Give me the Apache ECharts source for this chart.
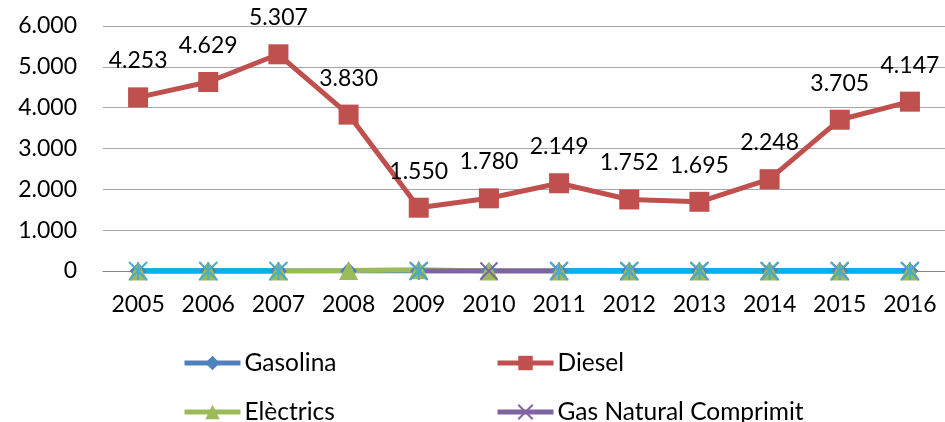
<!DOCTYPE html>
<html>
<head>
<meta charset="utf-8">
<script src="https://cdn.jsdelivr.net/npm/echarts@6/dist/echarts.min.js"></script>
<style>
  html, body { margin: 0; padding: 0; background: #fff; }
  #chart { width: 945px; height: 422px; }
</style>
</head>
<body>
<div id="chart"></div>
<script>
// Years on the category axis
const years = ['2005', '2006', '2007', '2008', '2009', '2010', '2011', '2012', '2013', '2014', '2015', '2016'];

// Vehicle counts per fuel type
const gasolina = [0, 0, 0, 0, 0, 0, 0, 0, 0, 0, 0, 0];
const diesel = [4253, 4629, 5307, 3830, 1550, 1780, 2149, 1752, 1695, 2248, 3705, 4147];
const electrics = [0, 0, 0, 10, 30, 0, 0, 0, 0, 0, 0, 0];
const gnc = [null, null, null, null, 0, 0, 0, 0, 0, 0, 0, 0];
const hibrids = [0, 0, 0, null, 0, null, 0, 0, 0, 0, 0, 0];

// Value axis ticks
const yTicks = [0, 1000, 2000, 3000, 4000, 5000, 6000];

const FONT = 'Lato';
const AXIS_FONT = 23;
const LEGEND_FONT = 24.5;
const fmt = v => String(v).replace(/\B(?=(\d{3})+(?!\d))/g, '.');

const xSymbol = 'path://M0,0L10,10M10,0L0,10';
const starSymbol = 'path://M0,0L10,10M10,0L0,10M5,0L5,10';

const chart = echarts.init(document.getElementById('chart'), null, { renderer: 'canvas' });

const legendBase = {
  orient: 'horizontal',
  padding: 0,
  itemWidth: 56,
  itemHeight: 18,
  itemGap: 10,
  lineStyle: { width: 5 },
  textStyle: { fontFamily: FONT, fontSize: LEGEND_FONT, color: '#000', padding: [0, 0, 0, -1], lineHeight: 26 }
};

chart.setOption({
  animation: false,
  textStyle: { fontFamily: FONT },
  grid: { left: 103, right: 0, top: 26, bottom: 151 },
  legend: [
    Object.assign({}, legendBase, { left: 182, top: 350, data: ['Gasolina'] }),
    Object.assign({}, legendBase, { left: 495, top: 350, data: ['Diesel'] }),
    Object.assign({}, legendBase, { left: 182, top: 399, data: ['Elèctrics'] }),
    Object.assign({}, legendBase, { left: 495, top: 399, data: ['Gas Natural Comprimit'] })
  ],
  xAxis: {
    type: 'category',
    data: years,
    boundaryGap: true,
    axisTick: { show: false },
    axisLine: { lineStyle: { color: '#868686', width: 1 } },
    axisLabel: { color: '#000', fontSize: AXIS_FONT, fontFamily: FONT, margin: 22 }
  },
  yAxis: {
    type: 'value',
    min: yTicks[0],
    max: yTicks[yTicks.length - 1],
    interval: yTicks[1] - yTicks[0],
    axisLine: { show: false },
    axisTick: { show: false },
    splitLine: { lineStyle: { color: '#A6A6A6', width: 1 } },
    axisLabel: { color: '#000', fontSize: AXIS_FONT, fontFamily: FONT, margin: 26, formatter: fmt }
  },
  series: [
    {
      name: 'Gasolina', type: 'line', data: gasolina,
      symbol: 'diamond', symbolSize: 17,
      itemStyle: { color: '#4F81BD' },
      lineStyle: { color: '#4F81BD', width: 5 }
    },
    {
      name: 'Diesel', type: 'line', data: diesel,
      symbol: 'rect', symbolSize: 20,
      itemStyle: { color: '#C0504D' },
      lineStyle: { color: '#C0504D', width: 5 },
      label: {
        show: true, position: 'top', distance: 15,
        color: '#000', fontSize: AXIS_FONT, fontFamily: FONT,
        formatter: p => fmt(p.value)
      },
      z: 3
    },
    {
      name: 'Elèctrics', type: 'line', data: electrics,
      symbol: 'triangle', symbolSize: 19,
      itemStyle: { color: '#9BBB59' },
      lineStyle: { color: '#9BBB59', width: 5 }
    },
    {
      name: 'Gas Natural Comprimit', type: 'line', data: gnc,
      symbol: xSymbol, symbolSize: 17,
      itemStyle: { color: '#8064A2', borderColor: '#8064A2', borderWidth: 2 },
      lineStyle: { color: '#8064A2', width: 5 }
    },
    {
      name: 'Híbrids', type: 'line', data: hibrids,
      symbol: starSymbol, symbolSize: 18,
      itemStyle: { color: '#4BACC6', borderColor: '#4BACC6', borderWidth: 2 },
      lineStyle: { color: '#00B0F0', width: 5.5 }
    }
  ]
});
</script>
</body>
</html>
